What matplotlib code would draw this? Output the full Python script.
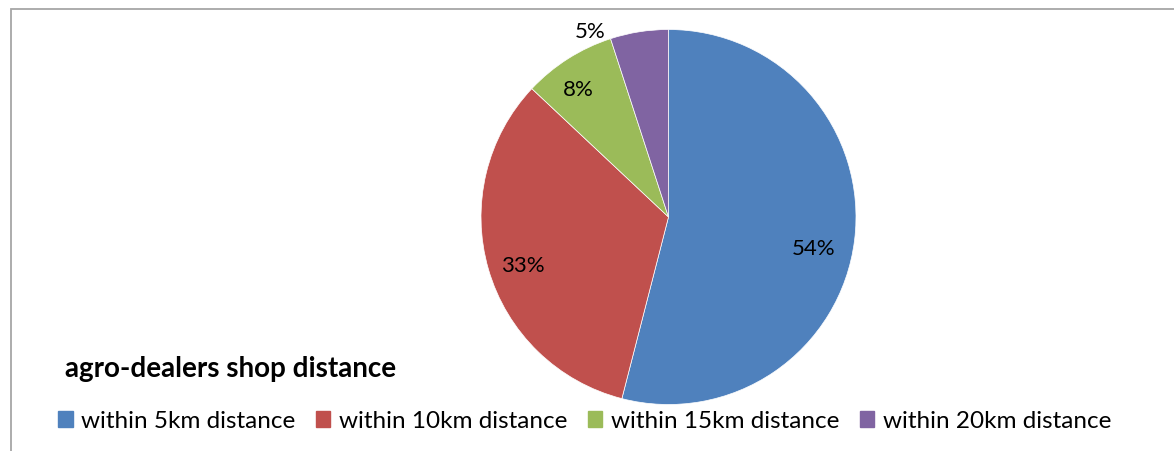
import matplotlib
matplotlib.use("Agg")
import matplotlib.pyplot as plt
from matplotlib.patches import Rectangle
import numpy as np

categories = ["within 5km distance", "within 10km distance",
              "within 15km distance", "within 20km distance"]
values = [54, 33, 8, 5]
colors = ["#4f81bd", "#c0504d", "#9bbb59", "#8064a2"]
title = "agro-dealers shop distance"

# label placement (fraction of radius, angular nudge in degrees)
label_dist = [0.79, 0.82, 0.83, 1.07]
label_nudge = [-5.3, 2.4, 2.8, 14]

W, H = 1174, 451
fig = plt.figure(figsize=(W / 100, H / 100), dpi=100)
plt.rcParams['font.family'] = ['Lato', 'DejaVu Sans']
ax = fig.add_axes([0, 0, 1, 1])

cx, cy, r = 668.5, H - 217, 187.5
wedges, texts, autotexts = ax.pie(
    values, colors=colors, startangle=90, counterclock=False,
    center=(cx, cy), radius=r, autopct=lambda p: f"{p:.0f}%",
    pctdistance=0.78, textprops=dict(fontsize=16, color="black"),
    wedgeprops=dict(linewidth=0.5, edgecolor="white"))
for w, t, d, n in zip(wedges, autotexts, label_dist, label_nudge):
    ang = np.deg2rad((w.theta1 + w.theta2) / 2 + n)
    t.set_position((cx + d * r * np.cos(ang), cy + d * r * np.sin(ang)))

ax.set_xlim(0, W)
ax.set_ylim(0, H)
ax.set_aspect("equal")
ax.axis("off")

# outer frame (clipped on right and bottom in the source)
fig.patches.append(Rectangle((10.5 / W, -0.1), 1.2, (H - 9) / H + 0.1,
                             transform=fig.transFigure, fill=False,
                             edgecolor="#a6a6a6", linewidth=1.3))

fig.text(65 / W, 1 - 369 / H, title, fontsize=20, fontweight="bold",
         va="center", ha="left")

handles = [Rectangle((0, 0), 1, 1, color=c) for c in colors]
leg = fig.legend(handles, categories, ncol=4, loc="center left",
                 bbox_to_anchor=(58 / W, 1 - 421 / H), frameon=False,
                 fontsize=17.5, handlelength=0.6, handleheight=0.6,
                 handletextpad=0.35, columnspacing=0.84, borderaxespad=0,
                 borderpad=0)

fig.savefig("out.png", dpi=100)
